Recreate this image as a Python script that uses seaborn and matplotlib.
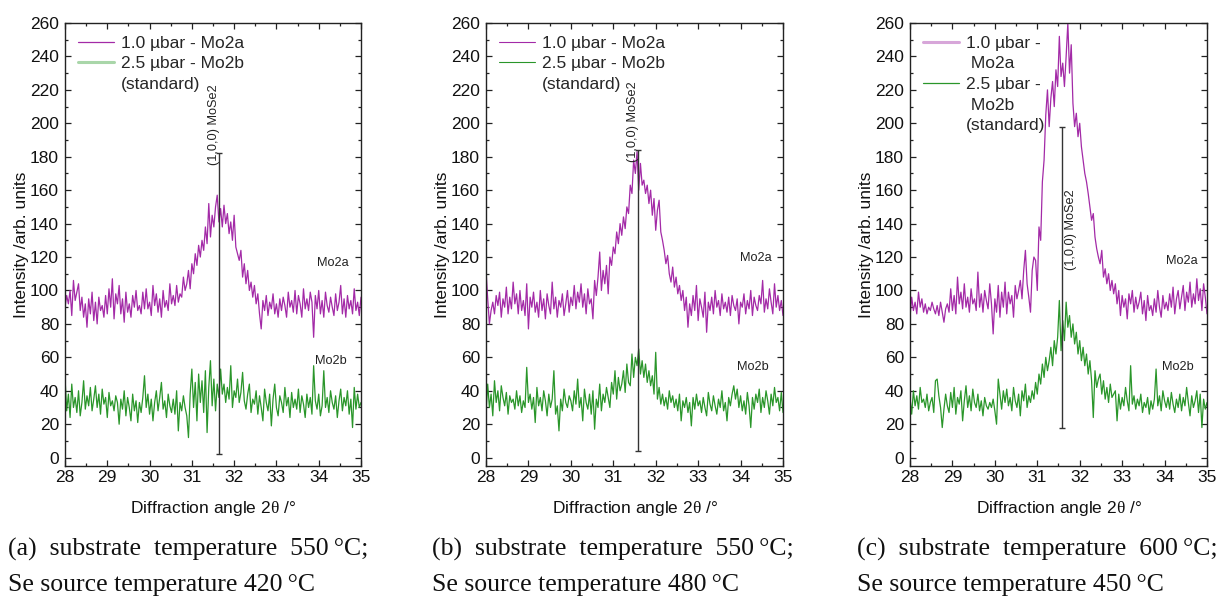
import numpy as np
import matplotlib
matplotlib.use("Agg")
import matplotlib.pyplot as plt
from matplotlib.lines import Line2D
from matplotlib.ticker import MultipleLocator
import seaborn as sns

# ---------------------------------------------------------------- data
# diffraction angle grid (2theta, degrees), 0.04 deg steps from 28 to 35
two_theta = np.round(np.arange(176) * 0.04 + 28.0, 2)

# (a) substrate 550 C, Se source 420 C
mo2a_a = [
    90, 97, 92, 100, 85, 106, 94, 99,
    104, 88, 96, 84, 92, 78, 95, 86,
    99, 82, 93, 80, 96, 88, 91, 84,
    97, 86, 101, 90, 107, 83, 98, 92,
    103, 86, 95, 81, 99, 87, 92, 84,
    97, 90, 100, 88, 91, 86, 99, 89,
    101, 89, 93, 85, 103, 91, 98, 87,
    95, 84, 100, 90, 94, 88, 104, 92,
    97, 91, 103, 93, 98, 96, 108, 100,
    104, 112, 101, 116, 110, 122, 115, 127,
    120, 130, 124, 138, 128, 152, 132, 145,
    138, 150, 157, 141, 149, 138, 151, 140,
    146, 134, 141, 130, 145, 126, 122, 118,
    124, 108, 116, 104, 112, 100, 105, 96,
    103, 92, 98, 86, 77, 94, 88, 97,
    85, 93, 89, 98, 86, 92, 84, 95,
    88, 96, 91, 84, 99, 90, 94, 87,
    100, 86, 97, 92, 84, 101, 89, 95,
    88, 99, 93, 72, 97, 89, 100, 86,
    94, 84, 99, 91, 87, 96, 90, 85,
    98, 88, 93, 103, 86, 95, 84, 97,
    89, 94, 86, 101, 88, 93, 85, 96,
]
mo2b_a = [
    48, 28, 38, 24, 44, 30, 36, 27,
    40, 25, 33, 46, 29, 37, 31, 42,
    28, 35, 43, 30, 38, 26, 41, 32,
    36, 24, 39, 31, 34, 28, 37, 33,
    20, 35, 29, 40, 25, 36, 30, 22,
    38, 28, 34, 21, 33, 27, 36, 49,
    30, 38, 26, 35, 22, 33, 40, 28,
    36, 45, 29, 34, 24, 38, 31, 27,
    35, 26, 40, 16, 33, 28, 37, 30,
    25, 12, 38, 53, 30, 45, 22, 50,
    33, 46, 27, 52, 15, 42, 58, 31,
    47, 28, 44, 36, 53, 38, 44, 33,
    42, 35, 55, 30, 40, 36, 47, 33,
    39, 51, 34, 29, 38, 44, 27, 35,
    32, 40, 26, 37, 30, 22, 41, 33,
    28, 38, 19, 35, 44, 30, 25, 37,
    33, 27, 42, 31, 36, 24, 39, 30,
    35, 29, 41, 27, 37, 32, 24, 38,
    30, 36, 26, 55, 34, 29, 38, 25,
    31, 52, 30, 36, 27, 40, 33, 29,
    37, 24, 34, 41, 28, 36, 31, 40,
    26, 35, 18, 42, 29, 38, 30, 33,
]

# (b) substrate 550 C, Se source 480 C
mo2a_b = [
    112, 95, 80, 88, 93, 86, 97, 91,
    99, 84, 95, 90, 102, 86, 96, 89,
    105, 92, 98, 86, 100, 88, 94, 85,
    104, 77, 96, 90, 99, 87, 93, 84,
    100, 88, 95, 83, 98, 91, 86, 105,
    89, 96, 84, 94, 90, 98, 85, 92,
    100, 87, 96, 91, 103, 89, 99, 93,
    104, 90, 98, 86, 101, 92, 95, 83,
    106, 97, 108, 123, 100, 112, 104, 115,
    98, 120, 115, 126, 122, 135, 128, 140,
    133, 144, 137, 150, 146, 163, 158, 178,
    170, 183, 160, 176, 163, 166, 158, 163,
    152, 160, 145, 155, 136, 148, 154, 135,
    130, 124, 116, 121, 110, 105, 114, 102,
    108, 98, 103, 94, 100, 88, 96, 78,
    92, 85, 97, 88, 103, 82, 95, 90,
    84, 99, 75, 93, 88, 96, 86, 100,
    90, 94, 85, 98, 89, 93, 87, 96,
    85, 97, 91, 88, 95, 80, 93, 90,
    98, 86, 94, 89, 100, 85, 96, 91,
    88, 97, 92, 106, 87, 95, 89, 101,
    93, 86, 104, 90, 97, 88, 94, 85,
]
mo2b_b = [
    27, 44, 30, 38, 25, 46, 33, 40,
    28, 43, 36, 31, 39, 26, 37, 33,
    35, 29, 40, 31, 37, 27, 34, 30,
    54, 33, 38, 29, 36, 21, 42, 31,
    36, 28, 40, 34, 25, 38, 30, 35,
    52, 26, 31, 16, 35, 28, 41, 33,
    30, 37, 34, 28, 40, 32, 47, 30,
    36, 22, 41, 33, 29, 38, 26, 40,
    17, 35, 30, 44, 28, 38, 33, 42,
    36, 30, 45, 38, 52, 35, 48, 40,
    44, 52, 39, 56, 45, 43, 62, 48,
    60, 55, 65, 50, 58, 48, 56, 45,
    52, 43, 49, 38, 63, 35, 42, 32,
    38, 31, 36, 29, 40, 33, 37, 30,
    35, 28, 38, 22, 34, 30, 36, 27,
    33, 19, 36, 29, 38, 31, 34, 27,
    36, 30, 25, 39, 32, 28, 37, 31,
    26, 35, 30, 40, 28, 33, 22, 36,
    31, 38, 43, 35, 41, 30, 37, 28,
    34, 26, 39, 31, 18, 36, 29, 38,
    33, 41, 27, 36, 30, 40, 34, 26,
    38, 31, 42, 33, 36, 28, 39, 27,
]

# (c) substrate 600 C, Se source 450 C
mo2a_c = [
    84, 96, 88, 93, 86, 99, 90, 95,
    87, 92, 86, 90, 88, 93, 89, 86,
    91, 85, 93, 87, 81, 89, 92, 87,
    101, 88, 97, 86, 108, 92, 99, 89,
    104, 90, 96, 87, 101, 92, 95, 88,
    111, 90, 98, 87, 100, 94, 89, 104,
    92, 74, 95, 87, 103, 84, 99, 90,
    105, 86, 99, 92, 97, 84, 103, 95,
    100, 106, 95, 112, 124, 104, 96, 87,
    112, 120, 118, 100, 138, 130, 165, 178,
    205, 220, 198, 215, 225, 210, 232, 222,
    252, 228, 236, 222, 240, 260, 230, 247,
    212, 198, 206, 192, 200, 186, 178, 170,
    165, 158, 150, 142, 146, 132, 125, 120,
    116, 124, 108, 113, 104, 110, 100, 106,
    98, 104, 92, 100, 85, 97, 90, 95,
    83, 98, 92, 100, 87, 96, 89, 93,
    99, 86, 94, 82, 97, 88, 91, 85,
    95, 87, 100, 90, 84, 97, 89, 93,
    88, 98, 90, 102, 86, 95, 100, 89,
    96, 103, 88, 99, 93, 105, 90, 98,
    92, 107, 94, 101, 88, 104, 96, 86,
]
mo2b_c = [
    36, 26, 40, 31, 37, 29, 42, 33,
    35, 30, 38, 28, 33, 36, 27, 46,
    47, 37, 30, 18, 29, 38, 31, 27,
    39, 30, 42, 26, 36, 32, 40, 22,
    34, 43, 30, 37, 28, 41, 33, 30,
    38, 28, 34, 25, 36, 31, 29, 33,
    30, 35, 28, 20, 47, 38, 29, 40,
    33, 41, 31, 36, 28, 42, 34, 30,
    38, 25, 40, 34, 44, 30, 37, 33,
    40, 35, 45, 38, 50, 44, 56, 48,
    60, 52, 58, 66, 55, 70, 62, 72,
    94, 64, 82, 70, 93, 78, 85, 72,
    80, 68, 75, 62, 70, 58, 66, 55,
    62, 50, 58, 46, 24, 52, 42, 47,
    50, 38, 46, 35, 42, 33, 44, 36,
    38, 40, 22, 38, 29, 36, 31, 42,
    34, 28, 55, 32, 37, 29, 35, 31,
    38, 27, 33, 30, 36, 26, 34, 29,
    35, 53, 31, 37, 28, 40, 34, 30,
    36, 29, 39, 32, 27, 35, 30, 38,
    28, 36, 31, 42, 33, 25, 37, 30,
    34, 40, 27, 38, 18, 35, 29, 33,
]

# reference reflection (1,0,0) MoSe2: position and drawn extent per panel
ref_pos = [31.64, 31.58, 31.58]
ref_low = [2, 4, 18]
ref_high = [182, 184, 198]

legend_a = ["1.0 µbar - Mo2a"]
legend_b = ["2.5 µbar - Mo2b", "(standard)"]
legend_a_wrapped = ["1.0 µbar -", " Mo2a"]
legend_b_wrapped = ["2.5 µbar -", " Mo2b", "(standard)"]

captions = [
    ("(a)  substrate  temperature  550\u2009°C;", "Se source temperature 420\u2009°C"),
    ("(b)  substrate  temperature  550\u2009°C;", "Se source temperature 480\u2009°C"),
    ("(c)  substrate  temperature  600\u2009°C;", "Se source temperature 450\u2009°C"),
]

# ---------------------------------------------------------------- style
sns.set_theme(style="ticks")
plt.rcParams["font.family"] = ["Liberation Sans", "DejaVu Sans"]
plt.rcParams["mathtext.fontset"] = "custom"
plt.rcParams["mathtext.rm"] = "Liberation Serif"
plt.rcParams["mathtext.it"] = "Liberation Serif:italic"
plt.rcParams["mathtext.bf"] = "Liberation Serif:bold"

FS = 12.5
PURPLE = "#a32aa7"
GREEN = "#2a962a"
# legend handle styles per panel: (colour, width) for the two series
legend_styles = [
    ((PURPLE, 0.9), ("#a9d6a9", 2.2)),
    ((PURPLE, 0.8), (GREEN, 0.8)),
    (("#d7a6d9", 2.2), (GREEN, 0.9)),
]

fig = plt.figure(figsize=(12.19, 5.98), dpi=100)
lefts = [65 / 1219, 486 / 1219, 910 / 1219]
widths = [296 / 1219, 297 / 1219, 297 / 1219]
bottom = (598 - 466) / 598
height = (466 - 23) / 598

panels = [
    (mo2a_a, mo2b_a),
    (mo2a_b, mo2b_b),
    (mo2a_c, mo2b_c),
]

tag_a_pos = [(33.96, 116.5), (33.99, 119.5), (34.03, 117.6)]
tag_b_pos = [(33.91, 58), (33.92, 54.5), (33.94, 54)]

for idx, (ya, yb) in enumerate(panels):
    ax = fig.add_axes([lefts[idx], bottom, widths[idx], height])
    sns.lineplot(x=two_theta, y=ya, ax=ax, color=PURPLE, lw=0.9)
    sns.lineplot(x=two_theta, y=yb, ax=ax, color=GREEN, lw=0.9)

    # reference reflection marker
    lo, hi = ref_low[idx], ref_high[idx]
    ax.errorbar([ref_pos[idx]], [(lo + hi) / 2], yerr=[[(hi - lo) / 2], [(hi - lo) / 2]],
                fmt="none", ecolor="#333333", elinewidth=1.0, capsize=2.2, capthick=1.0,
                zorder=4)
    if idx < 2:
        ax.annotate("(1,0,0) MoSe2", xy=(ref_pos[idx], hi - 7), xytext=(1, 0),
                    textcoords="offset points", rotation=90, ha="right", va="bottom",
                    fontsize=9.2, color="#222222")
    else:
        ax.annotate("(1,0,0) MoSe2", xy=(ref_pos[idx], 112), xytext=(2, 0),
                    textcoords="offset points", rotation=90, ha="left", va="bottom",
                    fontsize=9.2, color="#222222")

    ax.text(*tag_a_pos[idx], "Mo2a", fontsize=9.2, va="center", ha="left", color="#222222")
    ax.text(*tag_b_pos[idx], "Mo2b", fontsize=9.2, va="center", ha="left", color="#222222")

    ax.set_xlim(28, 35)
    ax.set_ylim(-5, 260)
    ax.xaxis.set_major_locator(MultipleLocator(1))
    ax.xaxis.set_minor_locator(MultipleLocator(0.5))
    ax.yaxis.set_major_locator(MultipleLocator(20))
    ax.yaxis.set_minor_locator(MultipleLocator(10))
    ax.tick_params(which="both", direction="in", top=True, right=True,
                   color="#222222", width=0.9, labelsize=FS, labelcolor="#111111")
    ax.tick_params(which="major", length=4.0)
    ax.tick_params(which="minor", length=2.4)
    ax.tick_params(axis="y", pad=4.3)
    ax.tick_params(axis="x", pad=3.2)
    for sp in ax.spines.values():
        sp.set_linewidth(1.0)
        sp.set_color("#222222")

    ax.set_xlabel("Diffraction angle 2$\\mathrm{\\theta}$ /°", fontsize=FS, labelpad=10,
                  color="#111111")
    ax.set_ylabel("Intensity /arb. units", fontsize=FS, labelpad=1, color="#111111")

    # legend rows; continuation lines get an invisible handle
    (ca, wa), (cb, wb) = legend_styles[idx]
    if idx < 2:
        rows = [(legend_a[0], ca, wa), (legend_b[0], cb, wb), (legend_b[1], "none", 1)]
    else:
        rows = [(legend_a_wrapped[0], ca, wa), (legend_a_wrapped[1], "none", 1),
                (legend_b_wrapped[0], cb, wb), (legend_b_wrapped[1], "none", 1),
                (legend_b_wrapped[2], "none", 1)]
    handles = [Line2D([], [], color=c, lw=w) for _, c, w in rows]
    labels = [t for t, _, _ in rows]
    ax.legend(handles, labels, loc="upper left", frameon=False, fontsize=FS,
              borderaxespad=0.0, borderpad=0.72, handlelength=2.1, handletextpad=0.4,
              labelspacing=0.32)

# captions below the panels
cap_x = [8 / 1219, 432 / 1219, 857 / 1219]
for cx, (l1, l2) in zip(cap_x, captions):
    fig.text(cx, 1 - 556 / 598, l1, fontsize=18.5, family=["Liberation Serif", "DejaVu Serif"],
             ha="left", va="baseline", color="#111111")
    fig.text(cx, 1 - 591 / 598, l2, fontsize=18.5, family=["Liberation Serif", "DejaVu Serif"],
             ha="left", va="baseline", color="#111111")

fig.savefig("out.png", dpi=100)
